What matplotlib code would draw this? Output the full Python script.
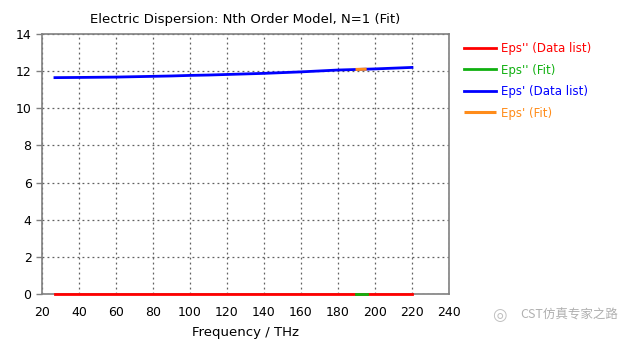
import matplotlib
matplotlib.use("Agg")
import matplotlib.pyplot as plt

# Eps' (Data list)
freq = [27, 40, 50, 60, 70, 80, 90, 100, 110, 120, 130, 140, 150, 160, 170, 180, 190, 200, 210, 220]
eps_re = [11.65, 11.66, 11.67, 11.68, 11.70, 11.72, 11.74, 11.77, 11.79, 11.82, 11.85, 11.88, 11.92,
          11.96, 12.01, 12.06, 12.09, 12.12, 12.16, 12.20]
eps_im = [0.0] * len(freq)

# fit segment
fit_freq = [189.5, 195.5]
fit_re = [12.09, 12.107]
fit_im = [0.0, 0.0]

xticks = list(range(20, 241, 20))
yticks = list(range(0, 15, 2))

plt.rcParams['font.family'] = ['DejaVu Sans']

fig = plt.figure(figsize=(6.24, 3.42), dpi=100)
ax = fig.add_axes([0.0673, 0.1404, 0.6522, 0.7602])

ax.plot(freq, eps_im, color='#ff0000', lw=2, label="Eps'' (Data list)", clip_on=False, zorder=3)
ax.plot(fit_freq, fit_im, color='#10b010', lw=2, label="Eps'' (Fit)", clip_on=False, zorder=4)
ax.plot(freq, eps_re, color='#0000ff', lw=2, label="Eps' (Data list)", zorder=3)
ax.plot(fit_freq, fit_re, color='#ff8c1a', lw=2.2, label="Eps' (Fit)", solid_capstyle='butt', zorder=4)

ax.set_xlim(20, 240)
ax.set_ylim(0, 14)
ax.set_xticks(xticks)
ax.set_yticks(yticks)
ax.grid(True, linestyle=(0, (1.5, 2.5)), color='#606060', lw=0.9)
ax.tick_params(labelsize=9, color='#808080', width=1)
ax.tick_params(axis='y', length=4)
ax.tick_params(axis='x', length=0, pad=9)
for s in ax.spines.values():
    s.set_color('#808080')
    s.set_linewidth(1.2)

ax.set_title("Electric Dispersion: Nth Order Model, N=1 (Fit)", fontsize=9.5, pad=8)
ax.set_xlabel("Frequency / THz", fontsize=9.5, labelpad=5)

leg = ax.legend(loc='upper left', bbox_to_anchor=(1.01, 1.01), frameon=False, fontsize=8.5,
                labelcolor='linecolor', handlelength=2.7, handletextpad=0.5, labelspacing=0.72)

fig.text(0.833, 0.078, "CST仿真专家之路", fontsize=9, color='#b0b0b0',
         family=['Noto Sans CJK SC', 'DejaVu Sans'], va='center')
fig.text(0.8, 0.078, "◎", fontsize=12, color='#c0c0c0', va='center', ha='center')

fig.savefig('out.png', dpi=100)
